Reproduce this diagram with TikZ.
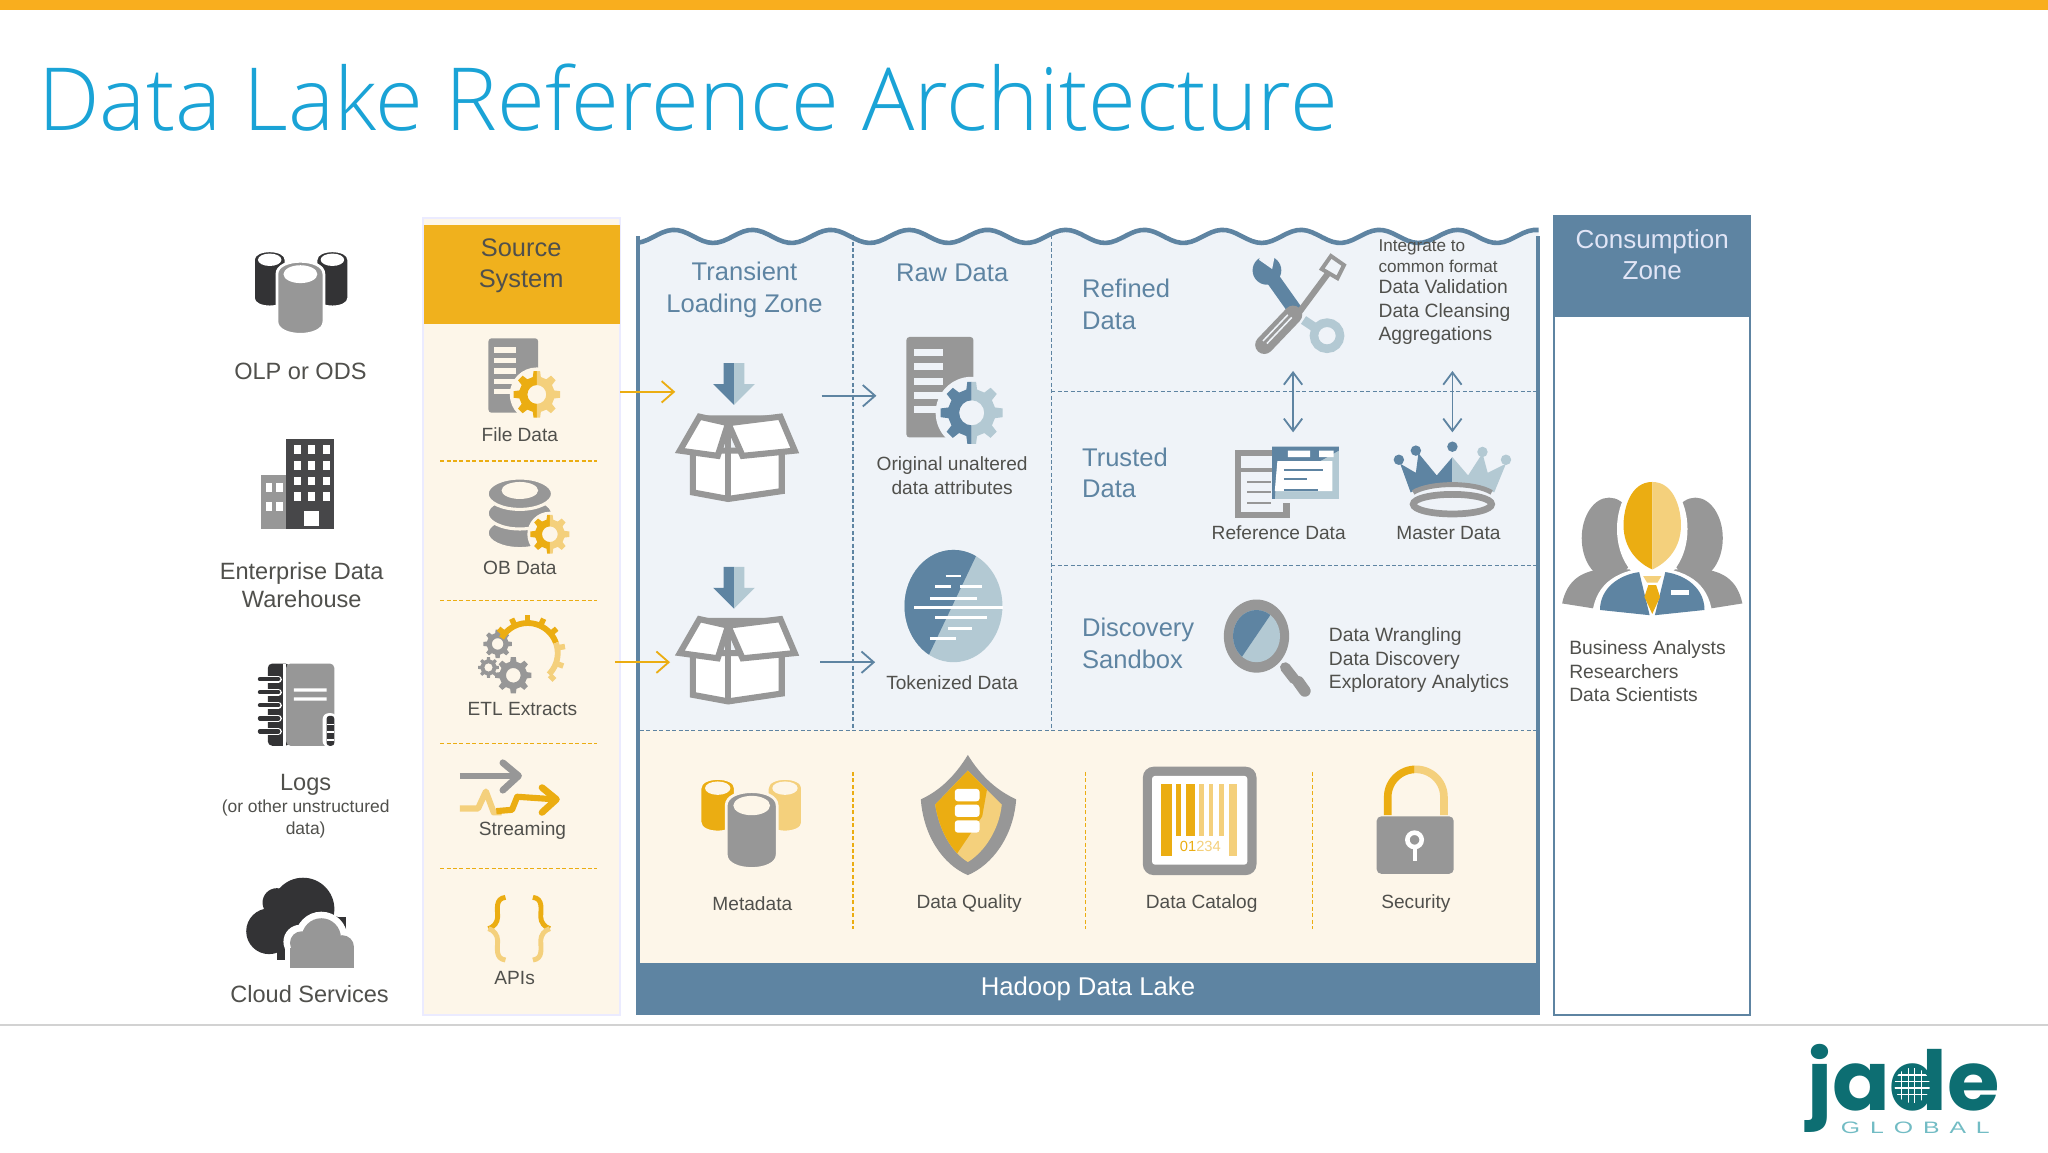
\documentclass[tikz,border=0pt]{standalone}
\usepackage{fontspec}
\setmainfont{Liberation Sans}
\newfontfamily\titlefont{Open Sans Light}
\newfontfamily\logofont[FakeStretch=1.03]{Poppins}
\newfontfamily\globalfont[FakeStretch=1.5,LetterSpace=60]{Liberation Sans}
\usetikzlibrary{arrows.meta,positioning}
\definecolor{barorange}{HTML}{F9AE1E}
\definecolor{titleblue}{HTML}{1AA3D6}
\definecolor{amber}{HTML}{EBAD12}
\definecolor{amberlight}{HTML}{F4D07C}
\definecolor{srchead}{HTML}{F0B11D}
\definecolor{beige}{HTML}{FDF6E9}
\definecolor{lakeblue}{HTML}{5E84A2}
\definecolor{paleblue}{HTML}{B3C9D3}
\definecolor{zonefill}{HTML}{EFF3F8}
\definecolor{iconGray}{HTML}{979797}
\definecolor{iconDark}{HTML}{333335}
\definecolor{labelgray}{HTML}{50504C}
\definecolor{jadeteal}{HTML}{0D6E72}
\definecolor{jadelight}{HTML}{72BCC4}
\newcommand{\gearpath}{(-13:7.6) \foreach \a in {0,45,...,315}{-- (\a-13:7.6) -- (\a-8:10) -- (\a+8:10) -- (\a+13:7.6)} -- cycle (0,0) circle[radius=4]}
\tikzset{
  pics/gearicon/.style n args={3}{code={
    \fill[#3] (0,0) circle[radius=11.5];
    \begin{scope}\clip (-12,-12) rectangle (0,12); \fill[#1,even odd rule] \gearpath; \end{scope}
    \begin{scope}\clip (0,-12) rectangle (12,12); \fill[#2,even odd rule] \gearpath; \end{scope}
  }},
  pics/greygear/.style={code={\fill[iconGray,even odd rule] \gearpath;}},
  pics/fileicon/.style n args={4}{code={
    \fill[iconGray,rounded corners=1pt] (0,0) rectangle (38,57);
    \foreach \k in {7,15,23,31,39} {\fill[#3] (4,\k) rectangle (21,\k+4);}
    \pic[scale=#4] at (37,43) {gearicon={#1}{#2}{#3}};
  }},
  pics/cylicon/.style n args={5}{code={
    \filldraw[fill=#3,draw=#5,line width=0.9pt] (-#1,#1*.55) .. controls (-#1,-#1*.18) and (#1,-#1*.18) .. (#1,#1*.55)
      -- (#1,#2-#1*.55) .. controls (#1,#2+#1*.18) and (-#1,#2+#1*.18) .. (-#1,#2-#1*.55) -- cycle;
    \fill[#4] (0,#1*.55) ellipse[x radius=#1*.72, y radius=#1*.38];
  }},
  pics/boxicon/.style={code={
    \begin{scope}[draw=iconGray,fill=white,line width=2pt,line join=miter]
      \filldraw (-34,28) -- (-34,60) -- (-7,65) -- (34,59) -- (34,28) -- cycle;
      \draw (-7,10) -- (-7,65);
      \filldraw (-29,2) -- (-44,28) -- (-15,32) -- (-7,7) -- cycle;
      \filldraw (33,2) -- (44,28) -- (4,32) -- (-7,7) -- cycle;
      \fill[iconGray] (-29,1) -- (33,1) -- (-7,7) -- cycle;
    \end{scope}
  }},
  pics/downicon/.style={code={
    \fill[lakeblue] (-8,0) -- (0,0) -- (0,32) -- (-16,16) -- (-8,16) -- cycle;
    \fill[paleblue] (8,0) -- (0,0) -- (0,32) -- (16,16) -- (8,16) -- cycle;
  }},
  lbl/.style={font=\fontsize{6.25}{7.7}\selectfont,text=labelgray,align=center,inner sep=0},
  lblwide/.style={font=\fontsize{6.3}{7.65}\selectfont,text=labelgray,align=left,inner sep=0,anchor=west},
  srclbl/.style={font=\fontsize{7.7}{9.2}\selectfont,text=labelgray,align=center,inner sep=0},
  headlbl/.style={font=\fontsize{8.3}{10.2}\selectfont,align=center,inner sep=0},
  zonelbl/.style={font=\fontsize{8.35}{10.2}\selectfont,text=lakeblue,align=left,inner sep=0},
  zonedash/.style={lakeblue,dashed,dash pattern=on 1.3pt off 0.8pt,line width=0.4pt},
  srcdash/.style={amber,dash pattern=on 1.3pt off 0.8pt,line width=0.4pt},
  flowin/.style={amber,line width=0.6pt,-{Straight Barb[length=4pt,width=7pt]}},
  flowon/.style={lakeblue,line width=0.6pt,-{Straight Barb[length=4pt,width=7pt]}},
  flowboth/.style={lakeblue,line width=0.6pt,{Straight Barb[length=4pt,width=6pt]}-{Straight Barb[length=4pt,width=6pt]}},
}
\begin{document}
\begin{tikzpicture}[x=0.015cm,y=-0.015cm]
  \useasboundingbox (0,0) rectangle (1568,882);
  \fill[white] (0,0) rectangle (1568,882);
  \fill[barorange] (0,0) rectangle (1568,8);
  \draw[gray!35,line width=0.6pt] (0,785) -- (1568,785);
  \node[font=\titlefont\fontsize{28.45}{32}\selectfont,text=titleblue,anchor=base west,inner sep=0] (title) at (29,100) {Data Lake Reference Architecture};

  % left column
  \pic at (206.5,192) {cylicon={12.5}{43}{iconDark}{white}{white}};
  \pic at (254.5,192) {cylicon={12.5}{43}{iconDark}{white}{white}};
  \pic at (230,200) {cylicon={18}{56}{iconGray}{white}{white}};
  \node[srclbl] (olp) at (230,284) {OLP or ODS};
  \fill[iconGray] (200,364) rectangle (219,405);
  \fill[iconDark!90] (219,336) rectangle (256,405);
  \foreach \cx in {203.5,211.5} \foreach \cy in {370,384} {\fill[white] (\cx,\cy) rectangle ++(5,7);}
  \foreach \cx in {225,236,247} \foreach \cy in {341,353,365,377} {\fill[white] (\cx,\cy) rectangle ++(5.5,6.5);}
  \fill[white] (233,391) rectangle (244,403);
  \node[srclbl] (edw) at (231,448) {Enterprise Data\\Warehouse};
  \fill[iconDark,rounded corners=1.5pt] (205,508) rectangle (222,571);
  \fill[iconGray,rounded corners=1.5pt] (219,508) rectangle (256,571);
  \fill[white] (217,508) rectangle (219,571);
  \fill[white] (225,527) rectangle (250,529.5) (225,534) rectangle (250,536.5);
  \foreach \cy in {520,530,540,550,560} {\draw[white,line width=2.4pt,line cap=round] (199,\cy) -- (213,\cy); \draw[iconDark,line width=1.4pt,line cap=round] (199,\cy) -- (213,\cy);}
  \fill[white,rounded corners=2pt] (247,546) rectangle (258,572);
  \fill[iconDark,rounded corners=1pt] (250,548) rectangle (256,571);
  \foreach \cy in {554,560,566} {\fill[white] (250,\cy) rectangle (256,\cy+1);}
  \node[srclbl] (logs) at (234,600.5) {Logs};
  \node[font=\fontsize{5.7}{6.9}\selectfont,text=labelgray,align=center,inner sep=0] (logsub) at (234,627) {(or other unstructured\\data)};
  \fill[iconDark] (232,696) circle[radius=24];
  \fill[iconDark] (212,691) circle[radius=11];
  \fill[iconDark] (206,713) circle[radius=17.5];
  \fill[iconDark] (254,712) circle[radius=11];
  \fill[iconDark] (212,702) rectangle (265,735);
  \fill[white] (246,718) circle[radius=20];
  \fill[white] (230,721) circle[radius=13];
  \fill[white] (262,724) circle[radius=13];
  \fill[white] (218,724) rectangle (276,742);
  \fill[iconGray] (246,718) circle[radius=15];
  \fill[iconGray] (231,722) circle[radius=9];
  \fill[iconGray] (262,725) circle[radius=9];
  \fill[iconGray] (222,726) rectangle (271,741);
  \node[srclbl] (cloud) at (237,761) {Cloud Services};

  % source system
  \filldraw[fill=beige,draw=blue!8,line width=0.6pt] (324,167) rectangle (475,777);
  \fill[srchead] (324.3,172) rectangle (474.7,248);
  \node[headlbl,text=labelgray] (source) at (399,203.5) {Source\\System};
  \pic at (374,259) {fileicon={amber}{amberlight}{beige}{1.8}};
  \node[lbl] (file) at (398,333) {File Data};
  \draw[srcdash] (337,353) -- (457,353);
  \begin{scope}[beige,line width=1pt]
    \filldraw[fill=iconGray] (398,408) ellipse[x radius=25,y radius=12];
    \filldraw[fill=iconGray] (398,393) ellipse[x radius=25,y radius=12];
    \filldraw[fill=iconGray] (398,378) ellipse[x radius=25,y radius=12];
  \end{scope}
  \fill[beige] (398,375.5) ellipse[x radius=14,y radius=6.5];
  \pic[scale=1.5] at (421,409) {gearicon={amber}{amberlight}{beige}};
  \node[lbl] (ob) at (398,435) {OB Data};
  \draw[srcdash] (337,460) -- (457,460);
  \pic[scale=1.1] at (381,493) {greygear};
  \pic[scale=0.8] at (374,511) {greygear};
  \pic[scale=1.4] at (393,517) {greygear};
  \draw[amber,line width=1.9pt] plot[domain=-150:-20,samples=25] ({404+23*cos(\x)},{500+23*sin(\x)});
  \draw[amberlight,line width=1.9pt] plot[domain=-20:45,samples=15] ({404+23*cos(\x)},{500+23*sin(\x)});
  \foreach \t in {-140,-115,-90,-65,-40} {\draw[amber,line width=1.8pt] ({404+24*cos(\t)},{500+24*sin(\t)}) -- ({404+29*cos(\t)},{500+29*sin(\t)});}
  \foreach \t in {-10,20,45} {\draw[amberlight,line width=1.8pt] ({404+24*cos(\t)},{500+24*sin(\t)}) -- ({404+29*cos(\t)},{500+29*sin(\t)});}
  \node[lbl] (etl) at (400,543) {ETL Extracts};
  \draw[srcdash] (337,569) -- (457,569);
  \draw[iconGray,line width=2pt] (352,594) -- (396,594);
  \draw[iconGray,line width=2.2pt,line cap=round,line join=round] (385,584) -- (397,594) -- (385,605);
  \draw[amberlight,line width=2pt,line join=round] (352,619) -- (366,619) -- (372,606) -- (378,622) -- (384,622);
  \draw[amber,line width=2pt,line join=round] (380,621) -- (392,620) -- (396,610) -- (425,612);
  \draw[amber,line width=2.2pt,line cap=round,line join=round] (415,603) -- (426,612) -- (415,622);
  \node[lbl] (stream) at (400,636) {Streaming};
  \draw[srcdash] (337,665) -- (457,665);
  \draw[amber,line width=1.6pt] (387,687) .. controls (379,688) and (381,696) .. (381,702) .. controls (381,706) and (378,710) .. (374,711);
  \draw[amberlight,line width=1.6pt] (374,711) .. controls (378,712) and (381,716) .. (381,720) .. controls (381,726) and (379,734) .. (387,735);
  \draw[amber,line width=1.6pt] (408,687) .. controls (416,688) and (414,696) .. (414,702) .. controls (414,706) and (417,710) .. (421,711);
  \draw[amberlight,line width=1.6pt] (421,711) .. controls (417,712) and (414,716) .. (414,720) .. controls (414,726) and (416,734) .. (408,735);
  \node[lbl] (apis) at (394,749) {APIs};

  % hadoop lake
  \fill[zonefill] plot[domain=488:1178,samples=180] (\x,{181-5*cos(6*(\x-516))}) -- (1178,560) -- (488,560) -- cycle;
  \fill[beige] (488,559) rectangle (1178,737);
  \draw[lakeblue,line width=1.5pt] plot[domain=488:1178,samples=180] (\x,{181-5*cos(6*(\x-516))});
  \draw[lakeblue,line width=1.1pt] (488.4,181) -- (488.4,777) (1177.6,181) -- (1177.6,777);
  \node[fill=lakeblue,text=white,font=\fontsize{8.4}{10}\selectfont,minimum width=691*0.15mm,minimum height=40*0.15mm,inner sep=0] (lake) at (833,757) {Hadoop Data Lake};
  \draw[zonedash] (653,180) -- (653,559);
  \draw[zonedash] (805,180) -- (805,559);
  \draw[zonedash] (805,300) -- (1176,300);
  \draw[zonedash] (805,433) -- (1176,433);
  \draw[zonedash] (490,559) -- (1176,559);
  \node[zonelbl,align=center] (transient) at (570,222) {Transient\\Loading Zone};
  \node[zonelbl] (raw) at (729,208.5) {Raw Data};
  \node[zonelbl,anchor=west] (refined) at (828,233) {Refined\\Data};
  \node[zonelbl,anchor=west] (trusted) at (828,362) {Trusted\\Data};
  \node[zonelbl,anchor=west] (sandbox) at (828,492.5) {Discovery\\Sandbox};

  % transient and raw
  \pic at (562,278) {downicon};
  \pic at (564.5,317) {boxicon};
  \pic at (562,434) {downicon};
  \pic at (564.5,472) {boxicon};
  \pic[scale=1.35] at (694,258) {fileicon={lakeblue}{paleblue}{zonefill}{2.4}};
  \node[lbl] (orig) at (729,364) {Original unaltered\\data attributes};
  \begin{scope}
    \clip (730,464) ellipse[x radius=37.5,y radius=43];
    \fill[paleblue] (690,420) rectangle (770,508);
    \fill[lakeblue] (690,420) -- (750,420) -- (708,508) -- (690,508) -- cycle;
  \end{scope}
  \foreach \xa/\xb/\cy in {724/736/441,716/728/449,735/752/449,712/748/458,700/768/465,716/756/473,726/744/481,712/732/489}
    {\draw[white,line width=0.9pt] (\xa,\cy) -- (\xb,\cy);}
  \node[lbl] (token) at (729,523) {Tokenized Data};
  \coordinate (srcA) at (475,300);
  \coordinate (boxA) at (517,300);
  \coordinate (srcB) at (471,507);
  \coordinate (boxB) at (513,507);
  \coordinate (boxAr) at (629,303);
  \coordinate (rawA) at (671,303);
  \coordinate (boxBr) at (628,507);
  \coordinate (rawB) at (670,507);
  \draw[flowin] (srcA) -- (boxA);
  \draw[flowin] (srcB) -- (boxB);
  \draw[flowon] (boxAr) -- (rawA);
  \draw[flowon] (boxBr) -- (rawB);

  % refined
  \draw[lakeblue,line width=4.6pt] (972,210) -- (994,241);
  \fill[lakeblue] (970,207) circle[radius=11];
  \fill[zonefill] (966,191) -- (977,191) -- (974,206) -- (964,199) -- cycle;
  \draw[paleblue,line width=3pt] (998,245) -- (1010,253);
  \draw[paleblue,line width=2.8pt,fill=zonefill] (1016,257) circle[radius=10];
  \draw[iconGray,line width=2pt] (1020,205) -- (994,240);
  \draw[iconGray,line width=1.3pt,fill=zonefill] (1019,196) -- (1029,203) -- (1024,213) -- (1012,206) -- cycle;
  \draw[iconGray,line width=6pt,line cap=round] (990,241) -- (968,264);
  \draw[zonefill,line width=0.5pt] (989,243) -- (970,263) (986,241) -- (967,261);
  \node[lblwide,font=\fontsize{5.6}{6.8}\selectfont] (integ) at (1055,196) {Integrate to\\common format};
  \node[lblwide] (valid) at (1055,239) {Data Validation\\Data Cleansing\\Aggregations};

  % trusted
  \draw[iconGray,line width=2pt] (985,347) -- (948,347) -- (948,394) -- (985,394) -- (985,385);
  \fill[iconGray] (948,358) rectangle (975,361);
  \foreach \cy in {368,376,384} {\fill[iconGray] (955,\cy) rectangle (973,\cy+1.5);}
  \fill[paleblue] (974,342) rectangle (1025,382);
  \fill[lakeblue] (974,342) -- (1025,342) -- (1025,345) -- (1009,354) -- (978,354) -- (976,382) -- (974,382) -- cycle;
  \fill[white] (978,353) -- (1020,353) -- (1020,376) -- (976,376) -- cycle;
  \fill[white] (986,345) rectangle (1003,350) (1010,345) rectangle (1021,350);
  \foreach \xb/\cy in {1013/360,1001/367,1009/375} {\draw[lakeblue,line width=0.6pt] (983,\cy) -- (\xb,\cy);}
  \node[lbl] (refdata) at (979,408) {Reference Data};
  \fill[lakeblue] (1112,350) -- (1100,364) -- (1086,347) -- (1084,362) -- (1072,355) -- (1080,377) .. controls (1090,372) and (1100,371) .. (1112,370) -- cycle;
  \fill[paleblue] (1112,350) -- (1124,364) -- (1135,347) -- (1139,362) -- (1153,355) -- (1144,377) .. controls (1134,372) and (1124,371) .. (1112,370) -- cycle;
  \fill[lakeblue] (1084,345) circle[radius=4] (1071,352) circle[radius=4] (1112,342) circle[radius=4];
  \fill[paleblue] (1135,346) circle[radius=4] (1153,352) circle[radius=4];
  \draw[iconGray,line width=1.6pt] (1082,377) .. controls (1095,369) and (1129,369) .. (1142,377);
  \draw[iconGray,line width=2.2pt,fill=none] (1112,386) ellipse[x radius=30,y radius=7.5];
  \node[lbl] (master) at (1109,408) {Master Data};
  \coordinate (toolsA) at (990,284);
  \coordinate (refA) at (990,331);
  \coordinate (textB) at (1112,284);
  \coordinate (mastB) at (1112,331);
  \draw[flowboth] (toolsA) -- (refA);
  \draw[flowboth] (textB) -- (mastB);

  % discovery
  \draw[iconGray,line width=3.4pt,line cap=round] (984,511) -- (991,520);
  \draw[iconGray,line width=3.8pt,line cap=round] (994,522) -- (999,529);
  \fill[iconGray] (962,487) ellipse[x radius=25,y radius=28];
  \begin{scope}
    \clip (962,487) ellipse[x radius=18,y radius=20];
    \fill[paleblue] (940,460) rectangle (985,510);
    \fill[lakeblue] (940,460) -- (980,460) -- (946,510) -- (940,510) -- cycle;
  \end{scope}
  \node[lblwide] (wrangle) at (1017,505.5) {Data Wrangling\\Data Discovery\\Exploratory Analytics};

  % shared services
  \pic at (549.5,596) {cylicon={13.5}{41}{amber}{beige}{beige}};
  \pic at (601,596) {cylicon={13.5}{41}{amberlight}{beige}{beige}};
  \pic at (575.5,606) {cylicon={19.5}{59}{iconGray}{beige}{beige}};
  \node[lbl] (meta) at (576,691.5) {Metadata};
  \draw[srcdash,line width=0.5pt] (653,591) -- (653,711);
  \fill[iconGray] (741,578) .. controls (730,596) and (718,606) .. (705,612) .. controls (707,640) and (722,662) .. (741,670) .. controls (760,662) and (776,640) .. (778,612) .. controls (765,606) and (752,596) .. (741,578) -- cycle;
  \begin{scope}
    \clip (741,590) -- (716,616) .. controls (719,635) and (728,652) .. (741,660) .. controls (754,652) and (765,635) .. (767,616) -- cycle;
    \fill[amberlight] (700,580) rectangle (780,670);
    \fill[amber] (700,580) -- (760,580) -- (752,625) -- (725,665) -- (700,665) -- cycle;
  \end{scope}
  \foreach \cy in {604,616,628} {\fill[white,rounded corners=1pt] (731,\cy) rectangle (750,\cy+9.5);}
  \node[lbl] (quality) at (742,692) {Data Quality};
  \draw[srcdash,line width=0.5pt] (831,591) -- (831,711);
  \fill[iconGray,rounded corners=3.5pt] (875,587) rectangle (962,670);
  \fill[white,rounded corners=1pt] (882,594) rectangle (955,662);
  \foreach \xa/\xb/\yb/\cc in {889/897/655/amber,900/904/640/amber,908/915/640/amber,918/922/640/amberlight,926/929/640/amberlight,933/937/640/amberlight,941/947/655/amberlight}
    {\fill[\cc] (\xa,600) rectangle (\xb,\yb);}
  \node[font=\fontsize{4.8}{5}\selectfont,inner sep=0] (digits) at (919,648) {\textcolor{amber}{01}\textcolor{amberlight}{234}};
  \node[lbl] (catalog) at (920,692) {Data Catalog};
  \draw[srcdash,line width=0.5pt] (1005,591) -- (1005,711);
  \begin{scope}
    \clip (1050,580) rectangle (1083,625);
    \draw[amber,line width=2.5pt] plot[domain=180:360,samples=30] ({1084+21.5*cos(\x)},{610+21*sin(\x)}) -- (1105.5,624) (1062.5,610) -- (1062.5,624);
  \end{scope}
  \begin{scope}
    \clip (1083,580) rectangle (1115,625);
    \draw[amberlight,line width=2.5pt] plot[domain=180:360,samples=30] ({1084+21.5*cos(\x)},{610+21*sin(\x)}) -- (1105.5,624) (1062.5,610) -- (1062.5,624);
  \end{scope}
  \fill[iconGray,rounded corners=1.5pt] (1054,625) rectangle (1113,669);
  \draw[white,line width=1.5pt] (1083,643) circle[radius=5.5];
  \draw[white,line width=1.3pt] (1083,649) -- (1083,659);
  \node[lbl] (security) at (1084,692) {Security};

  % consumption
  \draw[lakeblue,line width=0.6pt] (1189.5,165) rectangle (1340,777);
  \fill[lakeblue] (1189,165) rectangle (1340.5,243);
  \node[headlbl,text=blue!6!white!90!lakeblue,font=\fontsize{8.5}{10.1}\selectfont] (consume) at (1265,195) {Consumption\\Zone};
  \fill[iconGray] (1232,412) ellipse[x radius=21,y radius=31];
  \fill[iconGray] (1298,412) ellipse[x radius=21,y radius=31];
  \fill[iconGray] (1196,462) .. controls (1200,443) and (1212,438) .. (1224,436) -- (1306,436) .. controls (1318,438) and (1330,443) .. (1334,462) -- (1296,468) -- (1234,468) -- cycle;
  \fill[white] (1265,405) ellipse[x radius=27,y radius=40];
  \fill[white] (1219,470) .. controls (1222,445) and (1240,436) .. (1265,434) .. controls (1290,436) and (1308,445) .. (1311,470) -- cycle;
  \fill[amber] (1265,369) .. controls (1248,369) and (1243,390) .. (1243,402) .. controls (1243,420) and (1254,431) .. (1265,436) -- cycle;
  \fill[amberlight] (1265,369) .. controls (1282,369) and (1287,390) .. (1287,402) .. controls (1287,420) and (1276,431) .. (1265,436) -- cycle;
  \fill[lakeblue] (1225,467) .. controls (1225,450) and (1240,440) .. (1255,438) -- (1263,471) -- cycle;
  \fill[lakeblue] (1305,467) .. controls (1305,450) and (1290,440) .. (1275,438) -- (1267,471) -- cycle;
  \fill[amberlight] (1258,441) -- (1272,441) -- (1269,446) -- (1261,446) -- cycle;
  \fill[amber] (1262,448) -- (1268,448) -- (1271,457) -- (1265,470) -- (1259,457) -- cycle;
  \fill[white] (1279,452) rectangle (1293,455.5);
  \node[lblwide,font=\fontsize{6.3}{7.65}\selectfont] (people) at (1201,514) {Business Analysts\\Researchers\\Data Scientists};

  % logo
  \node[font=\logofont\bfseries\fontsize{27}{27}\selectfont,text=jadeteal,inner sep=0,anchor=base west] (jade) at (1383,850) {\smash{jade}};
  \node[font=\globalfont\fontsize{5.4}{6}\selectfont,text=jadelight,inner sep=0,anchor=base west] (global) at (1409,868) {GLOBAL};
  \begin{scope}
    \clip (1464,831) circle[radius=13.5];
    \fill[jadeteal] (1450,817) rectangle (1478,845);
    \foreach \k in {-8,-3,2,7} {\draw[white,line width=0.4pt] (1450,831+\k) -- (1478,831+\k); \draw[white,line width=0.4pt] (1464+\k,817) -- (1464+\k,845);}
  \end{scope}
\end{tikzpicture}
\end{document}
